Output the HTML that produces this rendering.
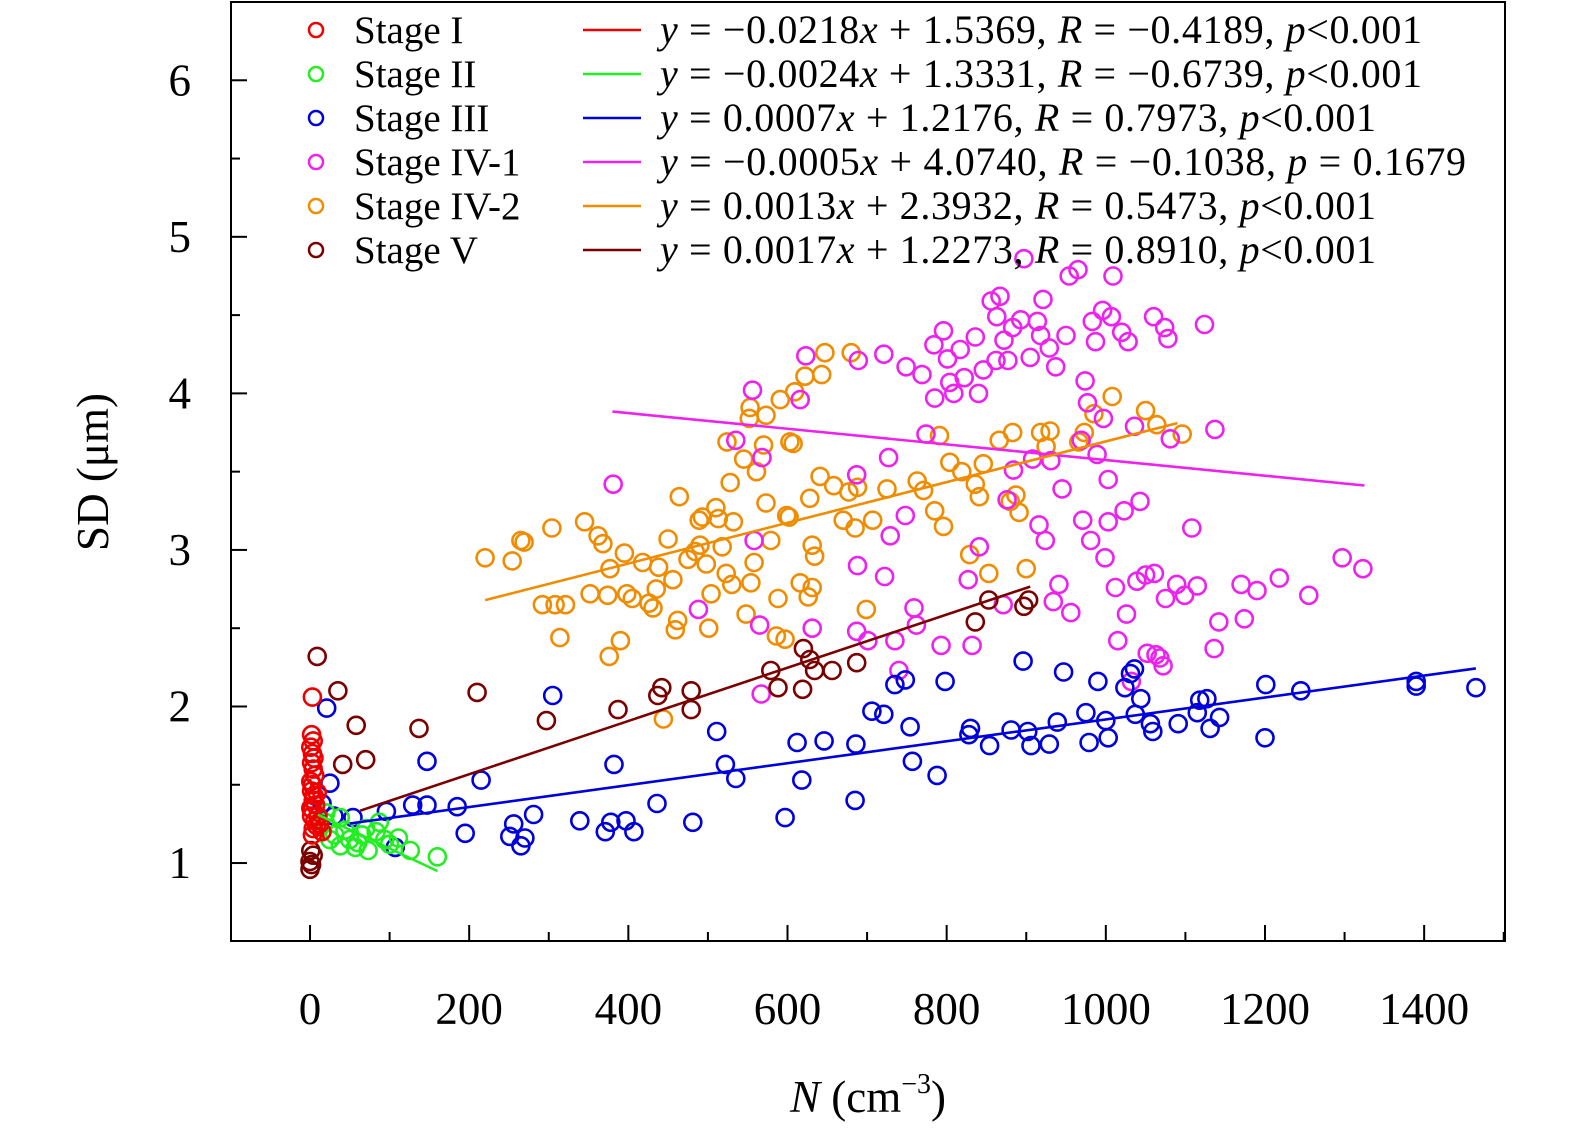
<!DOCTYPE html>
<html><head><meta charset="utf-8"><style>
html,body{margin:0;padding:0;background:#fff;overflow:hidden;width:1575px;height:1133px;}
svg{display:block;font-family:"Liberation Serif",serif;}
</style></head><body>
<svg id="chart" width="1575" height="1133" viewBox="0 0 1575 1133" xmlns="http://www.w3.org/2000/svg">
<g id="marks"></g>
<g id="axes"></g>
<g id="legend"></g>
</svg>
<script>
const xTicks=[0,200,400,600,800,1000,1200,1400];
const yTicks=[1,2,3,4,5,6];
const stageNames=["Stage I","Stage II","Stage III","Stage IV-1","Stage IV-2","Stage V"];
const stageColors=["#ee0000","#22ee22","#0000dd","#ee22ee","#f08c00","#7a0000"];
const fitSlopes=[-0.0218,-0.0024,0.0007,-0.0005,0.0013,0.0017];
const fitIntercepts=[1.5369,1.3331,1.2176,4.0740,2.3932,1.2273];
const fitStart=[0,10,50,380,220,63];
const fitEnd=[18,160,1465,1325,1090,905];
const fitLabels=[
["−0.0218","1.5369","−0.4189","<0.001"],
["−0.0024","1.3331","−0.6739","<0.001"],
["0.0007","1.2176","0.7973","<0.001"],
["−0.0005","4.0740","−0.1038"," = 0.1679"],
["0.0013","2.3932","0.5473","<0.001"],
["0.0017","1.2273","0.8910","<0.001"]];
const labelWidths=[762,762,716,806,716,716];

const stage1X=[3,2,4,1,3,5,2,4,6,1,3,2,5,4,7,3,2,6,8,4,10,12,15,9,3,1];
const stage1Y=[2.06,1.82,1.78,1.74,1.70,1.67,1.64,1.60,1.56,1.52,1.50,1.46,1.43,1.40,1.37,1.34,1.30,1.27,1.24,1.22,1.30,1.25,1.20,1.45,1.18,1.35];
const stage2X=[19,31,38,44,50,57,65,73,83,87,94,111,126,160,38,25,60,70,100,20];
const stage2Y=[1.26,1.18,1.11,1.21,1.15,1.10,1.18,1.08,1.20,1.26,1.15,1.16,1.08,1.04,1.29,1.15,1.13,1.22,1.12,1.32];
const stage3X=[21,25,54,96,107,129,147,147,185,195,215,251,256,265,270,281,305,339,371,378,382,397,407,436,481,511,522,535,597,612,618,646,685,686,706,721,735,748,754,757,788,798,828,830,854,881,896,902,906,929,939,947,975,979,990,1000,1003,1024,1031,1036,1037,1044,1056,1059,1091,1115,1118,1127,1131,1143,1200,1201,1245,1390,1390,1465,15,30];
const stage3Y=[1.99,1.51,1.29,1.33,1.10,1.37,1.65,1.37,1.36,1.19,1.53,1.17,1.25,1.11,1.16,1.31,2.07,1.27,1.20,1.26,1.63,1.27,1.20,1.38,1.26,1.84,1.63,1.54,1.29,1.77,1.53,1.78,1.40,1.76,1.97,1.95,2.14,2.17,1.87,1.65,1.56,2.16,1.82,1.86,1.75,1.85,2.29,1.84,1.75,1.76,1.90,2.22,1.96,1.77,2.16,1.91,1.80,2.12,2.21,2.24,1.95,2.05,1.89,1.84,1.89,1.96,2.04,2.05,1.86,1.93,1.80,2.14,2.10,2.16,2.13,2.12,1.38,1.30];
const stage4aX=[381,488,535,556,568,558,567,565,616,623,631,687,688,689,687,701,721,722,727,729,735,740,748,749,759,762,769,774,784,785,793,796,801,804,809,817,822,827,832,836,840,841,846,856,862,863,867,872,876,871,877,883,884,893,897,905,908,914,916,918,921,924,929,931,934,937,941,945,950,956,954,965,969,971,974,977,981,983,987,989,996,997,999,1003,1003,1007,1009,1012,1015,1020,1023,1026,1028,1032,1036,1039,1043,1050,1052,1060,1061,1063,1068,1072,1074,1078,1075,1081,1089,1099,1108,1115,1124,1136,1137,1142,1170,1174,1190,1218,1255,1297,1323];
const stage4aY=[3.42,2.62,3.70,4.02,3.59,3.06,2.08,2.52,3.96,4.24,2.50,3.48,2.90,4.21,2.48,2.42,4.25,2.83,3.59,3.09,2.42,2.23,3.22,4.17,2.63,2.52,4.12,3.74,4.31,3.97,2.39,4.40,4.22,4.07,4.00,4.28,4.10,2.81,2.39,4.36,4.00,3.02,4.15,4.59,4.21,4.49,4.62,4.34,3.32,2.65,4.21,4.42,3.51,4.47,4.86,4.23,3.58,4.46,3.16,4.37,4.60,3.06,4.29,3.57,2.67,4.17,2.78,3.39,4.37,2.60,4.75,4.79,3.70,3.19,4.08,3.94,3.06,4.46,4.33,3.61,4.53,3.84,2.95,3.18,3.45,4.49,4.75,2.76,2.42,4.39,3.25,2.59,4.33,2.16,3.79,2.80,3.31,2.84,2.34,4.49,2.85,2.33,2.31,2.26,4.42,4.35,2.69,3.71,2.78,2.71,3.14,2.77,4.44,2.37,3.77,2.54,2.78,2.56,2.74,2.82,2.71,2.95,2.88];
const stage4bX=[220,254,265,269,292,304,308,314,321,345,352,362,368,374,376,377,390,395,398,405,418,426,431,435,438,444,450,456,459,462,464,475,484,489,490,493,498,501,504,510,513,518,523,528,530,532,524,545,548,552,553,554,558,561,570,573,573,579,588,591,586,597,599,602,603,607,609,616,622,626,628,631,631,634,641,643,647,658,670,677,680,685,688,699,707,725,763,771,785,791,796,804,819,829,836,841,846,853,866,880,883,887,891,900,918,925,930,966,973,985,1008,1050,1064,1096];
const stage4bY=[2.95,2.93,3.06,3.05,2.65,3.14,2.65,2.44,2.65,3.18,2.72,3.09,3.04,2.71,2.32,2.88,2.42,2.98,2.72,2.69,2.92,2.66,2.63,2.75,2.89,1.92,3.07,2.81,2.49,2.55,3.34,2.94,2.99,3.19,3.03,3.21,2.91,2.50,2.72,3.27,3.20,3.02,2.85,3.43,2.78,3.18,3.69,3.58,2.59,3.84,3.91,2.79,2.92,3.50,3.67,3.86,3.30,3.06,2.69,3.96,2.45,2.43,3.22,3.21,3.69,3.68,4.01,2.79,4.11,2.70,3.33,2.76,3.03,2.96,3.47,4.12,4.26,3.41,3.19,3.37,4.26,3.14,3.40,2.62,3.19,3.39,3.44,3.38,3.25,3.73,3.15,3.56,3.50,2.97,3.42,3.34,3.55,2.85,3.70,3.31,3.75,3.35,3.24,2.88,3.75,3.66,3.76,3.69,3.75,3.87,3.98,3.89,3.80,3.74];
const stage5X=[9,35,41,58,70,137,210,297,387,437,442,479,479,579,588,619,620,628,634,656,687,836,853,897,903,0,0,1,4,2];
const stage5Y=[2.32,2.10,1.63,1.88,1.66,1.86,2.09,1.91,1.98,2.07,2.12,1.98,2.10,2.23,2.12,2.11,2.37,2.30,2.23,2.23,2.28,2.54,2.68,2.64,2.68,0.96,1.01,1.08,1.05,0.99];

const seriesX=[stage1X,stage2X,stage3X,stage4aX,stage4bX,stage5X];
const seriesY=[stage1Y,stage2Y,stage3Y,stage4aY,stage4bY,stage5Y];

const L=231,R=1505,T=2,B=941;
const xmin=-99.3,xmax=1501.6,ymin=0.502,ymax=6.5;
function sx(v){return L+(v-xmin)/(xmax-xmin)*(R-L);}
function sy(v){return B-(v-ymin)/(ymax-ymin)*(B-T);}
const NS="http://www.w3.org/2000/svg";
function mk(tag,attrs,parent){const e=document.createElementNS(NS,tag);for(const k in attrs)e.setAttribute(k,attrs[k]);parent.appendChild(e);return e;}

const marks=document.getElementById('marks');
const slugs=["stage-i","stage-ii","stage-iii","stage-iv-1","stage-iv-2","stage-v"];
[4,3,2,5,1,0].forEach(s=>{
  const g=mk('g',{},marks);
  
  
  seriesX[s].forEach((xv,i)=>{
    const c=mk('circle',{cx:sx(xv).toFixed(1),cy:sy(seriesY[s][i]).toFixed(1),r:8.5,fill:'none',stroke:stageColors[s],'stroke-width':2.6},g);
    
    
  });
});
[0,1,2,3,4,5].forEach(s=>{
  const x1=fitStart[s],x2=fitEnd[s];
  const ln=mk('line',{x1:sx(x1),y1:sy(fitSlopes[s]*x1+fitIntercepts[s]),x2:sx(x2),y2:sy(fitSlopes[s]*x2+fitIntercepts[s]),stroke:stageColors[s],'stroke-width':2.6},marks);
  
  
});

const axes=document.getElementById('axes');
const box=mk('rect',{x:L,y:T,width:R-L,height:B-T,fill:'none',stroke:'#000','stroke-width':2},axes);


for(let v=-100;v<=1500;v+=100){
  const major=v%200===0;const x=sx(v);
  if(x<L||x>R)continue;
  const t=mk('line',{x1:x,y1:B,x2:x,y2:B-(major?16:9),stroke:'#000','stroke-width':2},axes);
  
  
}
xTicks.forEach(v=>{
  const t=mk('text',{x:sx(v),y:1024,'text-anchor':'middle','font-size':45},axes);
  t.textContent=String(v);
  
  
});
for(let v=0.5;v<=6.5;v+=0.5){
  const major=Math.abs(v-Math.round(v))<1e-9;const y=sy(v);
  if(y<T||y>B)continue;
  const t=mk('line',{x1:L,y1:y,x2:L+(major?16:9),y2:y,stroke:'#000','stroke-width':2},axes);
  
  
}
yTicks.forEach(v=>{
  const t=mk('text',{x:191,y:sy(v)+15,'text-anchor':'end','font-size':45},axes);
  t.textContent=String(v);
  
  
});
const yt=mk('text',{x:0,y:0,'text-anchor':'middle','font-size':45,transform:'translate(108,472) rotate(-90)'},axes);
yt.textContent='SD (μm)';


const xt=mk('text',{x:868,y:1112,'text-anchor':'middle','font-size':45},axes);
xt.innerHTML='<tspan font-style="italic">N</tspan> (cm<tspan font-size="28" dy="-19">−3</tspan><tspan dy="19">)</tspan>';



const leg=document.getElementById('legend');
stageNames.forEach((nm,i)=>{
  const y=30+i*44;
  const g=mk('g',{},leg);
  
  
  mk('circle',{cx:316,cy:y,r:7,fill:'none',stroke:stageColors[i],'stroke-width':2.5},g);
  const t=mk('text',{x:354,y:y+13,'font-size':39},g);
  t.textContent=nm;
  mk('line',{x1:583,y1:y,x2:641,y2:y,stroke:stageColors[i],'stroke-width':2.5},g);
  const f=fitLabels[i];
  const e=mk('text',{x:660,y:y+13,'font-size':40,textLength:labelWidths[i],lengthAdjust:'spacing'},g);
  e.innerHTML='<tspan font-style="italic">y</tspan> = '+f[0]+'<tspan font-style="italic">x</tspan> + '+f[1]+', <tspan font-style="italic">R</tspan> = '+f[2]+', <tspan font-style="italic">p</tspan>'+f[3];
});
</script>
</body></html>
